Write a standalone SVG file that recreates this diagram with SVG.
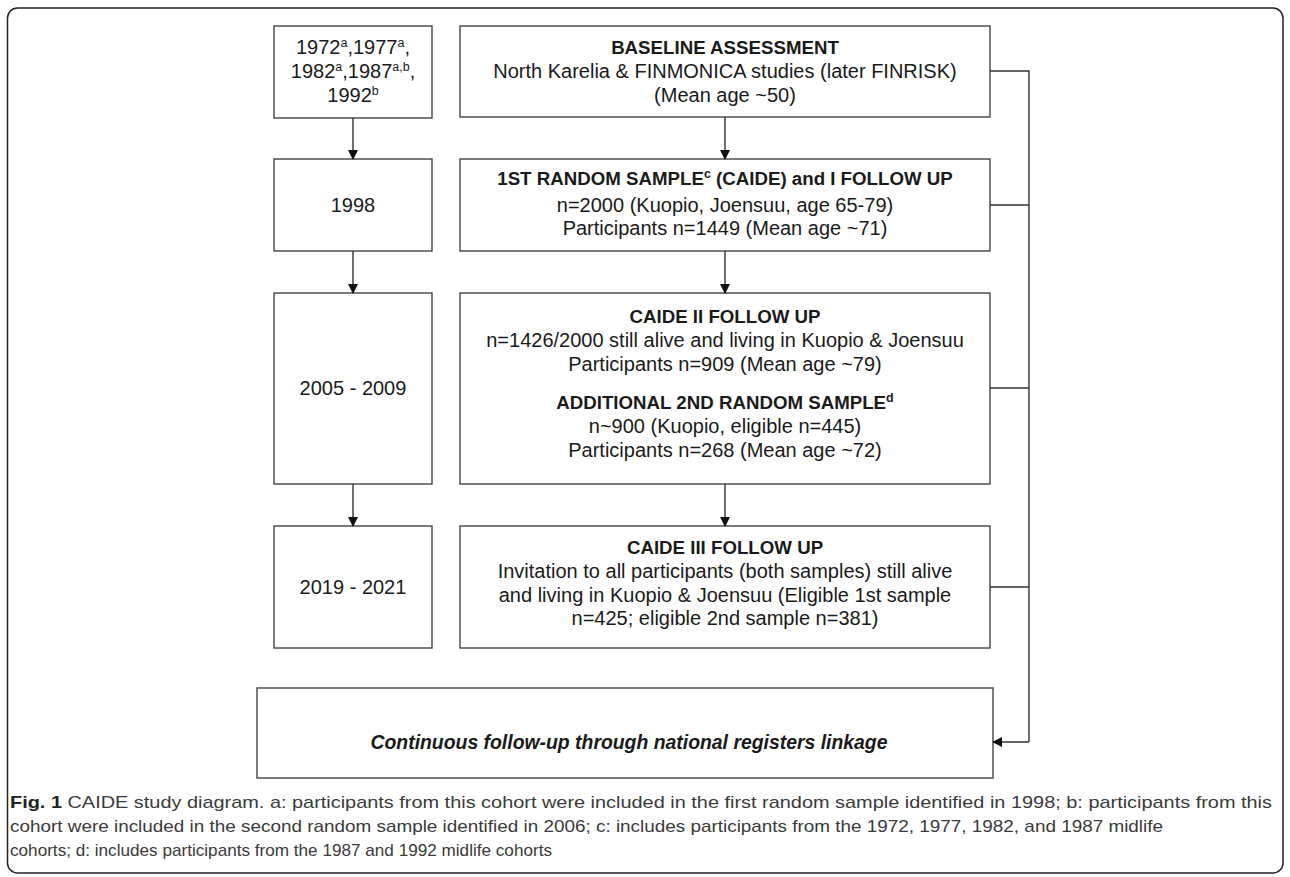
<svg xmlns="http://www.w3.org/2000/svg" width="1290" height="877" viewBox="0 0 1290 877">
<defs>
<marker id="ah" markerWidth="10" markerHeight="10" refX="9" refY="5" orient="auto" markerUnits="userSpaceOnUse">
<path d="M0,0 L10,5 L0,10 Z" fill="#111"/>
</marker>
<style>
.box{fill:#fff;stroke:#444;stroke-width:1.4}
.t{font-family:"Liberation Sans",Arial,sans-serif;font-size:20px;fill:#1a1a1a;text-anchor:middle}
.b{font-weight:bold;font-size:18.7px}
.sup{font-size:12.5px}
.con{fill:none;stroke:#333;stroke-width:1.4}
.cap{font-family:"Liberation Sans",Arial,sans-serif;font-size:17px;fill:#3a3a3a}
</style>
</defs>
<rect x="7.5" y="8" width="1275.5" height="865" rx="10" ry="10" fill="#fff" stroke="#222" stroke-width="1.5"/>

<g id="year1">
<rect class="box" x="274" y="26" width="158" height="92"/>
<text class="t" x="353" y="54">1972<tspan class="sup" dy="-7">a</tspan><tspan dy="7">,1977</tspan><tspan class="sup" dy="-7">a</tspan><tspan dy="7">,</tspan></text>
<text class="t" x="353" y="78">1982<tspan class="sup" dy="-7">a</tspan><tspan dy="7">,1987</tspan><tspan class="sup" dy="-7">a,b</tspan><tspan dy="7">,</tspan></text>
<text class="t" x="353" y="102">1992<tspan class="sup" dy="-7">b</tspan></text>
</g>
<g id="year2">
<rect class="box" x="274" y="159" width="158" height="92"/>
<text class="t" x="353" y="212">1998</text>
</g>
<g id="year3">
<rect class="box" x="274" y="293" width="158" height="191"/>
<text class="t" x="353" y="395">2005 - 2009</text>
</g>
<g id="year4">
<rect class="box" x="274" y="526" width="158" height="122"/>
<text class="t" x="353" y="594">2019 - 2021</text>
</g>

<g id="baseline">
<rect class="box" x="460" y="26" width="530" height="91"/>
<text class="t b" x="725" y="54">BASELINE ASSESSMENT</text>
<text class="t" x="725" y="78">North Karelia &amp; FINMONICA studies (later FINRISK)</text>
<text class="t" x="725" y="102">(Mean age ~50)</text>
</g>
<g id="sample1">
<rect class="box" x="460" y="159" width="530" height="92"/>
<text class="t b" x="725" y="185">1ST RANDOM SAMPLE<tspan class="sup" dy="-7">c</tspan><tspan dy="7"> (CAIDE) and I FOLLOW UP</tspan></text>
<text class="t" x="725" y="212">n=2000 (Kuopio, Joensuu, age 65-79)</text>
<text class="t" x="725" y="235">Participants n=1449 (Mean age ~71)</text>
</g>
<g id="caide2">
<rect class="box" x="460" y="293" width="530" height="191"/>
<text class="t b" x="725" y="323">CAIDE II FOLLOW UP</text>
<text class="t" x="725" y="347">n=1426/2000 still alive and living in Kuopio &amp; Joensuu</text>
<text class="t" x="725" y="371">Participants n=909 (Mean age ~79)</text>
<text class="t b" x="725" y="409">ADDITIONAL 2ND RANDOM SAMPLE<tspan class="sup" dy="-7">d</tspan></text>
<text class="t" x="725" y="433">n~900 (Kuopio, eligible n=445)</text>
<text class="t" x="725" y="457">Participants n=268 (Mean age ~72)</text>
</g>
<g id="caide3">
<rect class="box" x="460" y="526" width="530" height="122"/>
<text class="t b" x="725" y="554">CAIDE III FOLLOW UP</text>
<text class="t" x="725" y="578">Invitation to all participants (both samples) still alive</text>
<text class="t" x="725" y="602">and living in Kuopio &amp; Joensuu (Eligible 1st sample</text>
<text class="t" x="725" y="625">n=425; eligible 2nd sample n=381)</text>
</g>
<g id="registers">
<rect class="box" x="257" y="688" width="736" height="90"/>
<text class="t" x="629" y="749" font-weight="bold" font-style="italic" font-size="19" textLength="517" lengthAdjust="spacingAndGlyphs">Continuous follow-up through national registers linkage</text>
</g>

<g id="connectors">
<line class="con" x1="353" y1="118" x2="353" y2="159" marker-end="url(#ah)"/>
<line class="con" x1="353" y1="251" x2="353" y2="293" marker-end="url(#ah)"/>
<line class="con" x1="353" y1="484" x2="353" y2="526" marker-end="url(#ah)"/>
<line class="con" x1="725" y1="117" x2="725" y2="159" marker-end="url(#ah)"/>
<line class="con" x1="725" y1="251" x2="725" y2="293" marker-end="url(#ah)"/>
<line class="con" x1="725" y1="484" x2="725" y2="526" marker-end="url(#ah)"/>
<polyline class="con" points="990,71 1029,71 1029,742"/>
<line class="con" x1="990" y1="205" x2="1029" y2="205"/>
<line class="con" x1="990" y1="388" x2="1029" y2="388"/>
<line class="con" x1="990" y1="587" x2="1029" y2="587"/>
<line class="con" x1="1029" y1="742" x2="993" y2="742" marker-end="url(#ah)"/>
</g>

<g id="caption">
<text class="cap" x="10" y="808" textLength="1262" lengthAdjust="spacingAndGlyphs"><tspan font-weight="bold" fill="#222">Fig. 1</tspan> CAIDE study diagram. a: participants from this cohort were included in the first random sample identified in 1998; b: participants from this</text>
<text class="cap" x="10" y="832" textLength="1153" lengthAdjust="spacingAndGlyphs">cohort were included in the second random sample identified in 2006; c: includes participants from the 1972, 1977, 1982, and 1987 midlife</text>
<text class="cap" x="10" y="856" textLength="542" lengthAdjust="spacingAndGlyphs">cohorts; d: includes participants from the 1987 and 1992 midlife cohorts</text>
</g>
</svg>
